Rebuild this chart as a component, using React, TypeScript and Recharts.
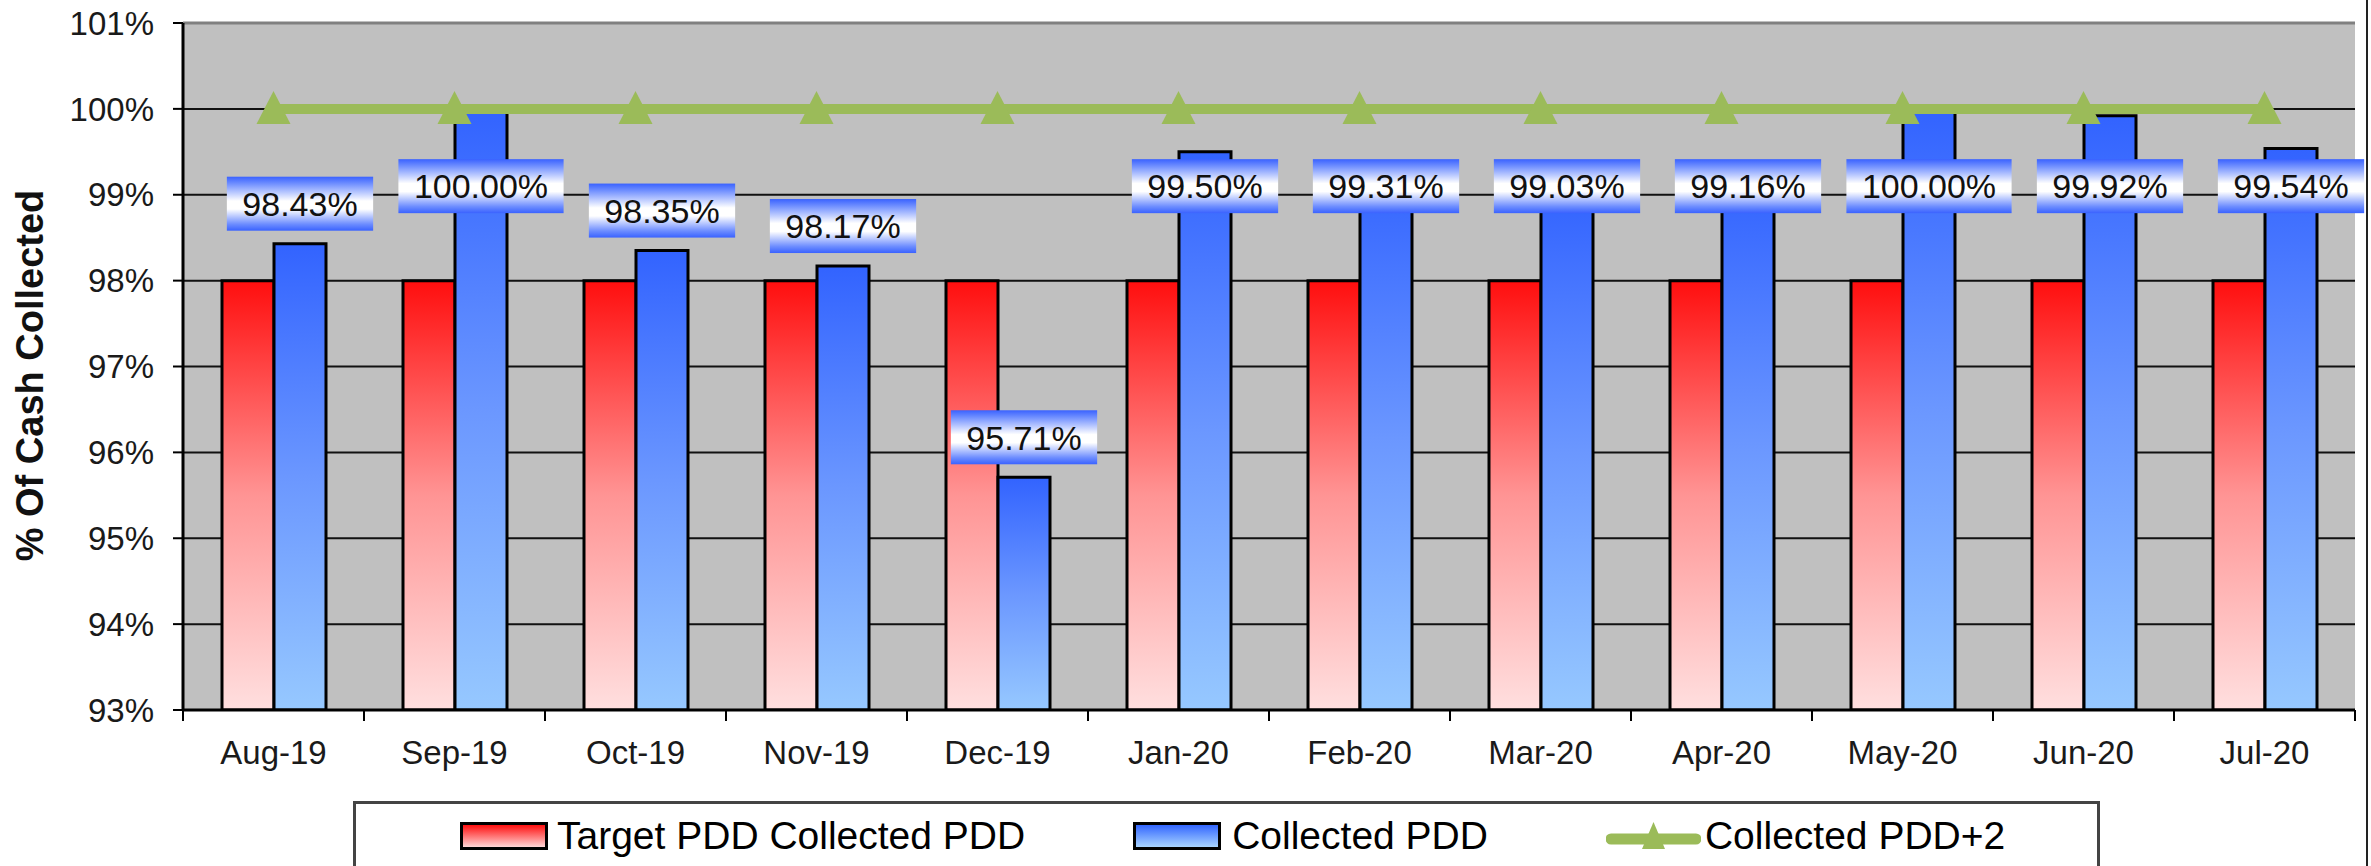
import React from 'react'
import {
  Bar,
  CartesianGrid,
  ComposedChart,
  LabelList,
  Legend,
  Line,
  ReferenceLine,
  XAxis,
  YAxis,
} from 'recharts'

const MONTHS = [
  'Aug-19', 'Sep-19', 'Oct-19', 'Nov-19', 'Dec-19', 'Jan-20',
  'Feb-20', 'Mar-20', 'Apr-20', 'May-20', 'Jun-20', 'Jul-20',
]
const TARGET_PDD = [98, 98, 98, 98, 98, 98, 98, 98, 98, 98, 98, 98]
const COLLECTED_PDD = [98.43, 100.0, 98.35, 98.17, 95.71, 99.5, 99.31, 99.03, 99.16, 100.0, 99.92, 99.54]
const COLLECTED_PDD_PLUS_2 = [100, 100, 100, 100, 100, 100, 100, 100, 100, 100, 100, 100]
const Y_TICKS = [93, 94, 95, 96, 97, 98, 99, 100, 101]

const SERIES_NAMES = ['Target PDD Collected PDD', 'Collected PDD', 'Collected PDD+2']

const FONT = '"Liberation Sans", Arial, Helvetica, sans-serif'
const W = 2371
const H = 866
const Y_MIN = Y_TICKS[0]
const Y_MAX = Y_TICKS[Y_TICKS.length - 1]
// labels of tall bars sit no higher than this value level
const LABEL_CEIL = 99.1
const LINE_GREEN = '#9bbb59'

const chartData = MONTHS.map((month, i) => ({
  month,
  target: TARGET_PDD[i],
  collected: COLLECTED_PDD[i],
  plus2: COLLECTED_PDD_PLUS_2[i],
}))

function textWidth(s: string, size: number) {
  let em = 0
  for (const ch of s) {
    if (ch === '.') em += 0.278
    else if (ch === '%') em += 0.889
    else em += 0.556
  }
  return em * size
}

function ValueBadge(props: any) {
  const { x, y, width, height, value } = props
  const v = Number(value)
  if (!Number.isFinite(v)) return null
  const text = `${v.toFixed(2)}%`
  const boxW = textWidth(text, 34) + 31
  const boxH = 54
  const perUnit = v > Y_MIN ? height / (v - Y_MIN) : 0
  const ceilY = y + height - (LABEL_CEIL - Y_MIN) * perUnit
  const cy = Math.max(y - 40, ceilY)
  const cx = x + width / 2
  return (
    <g>
      <rect x={cx - boxW / 2} y={cy - boxH / 2} width={boxW} height={boxH} fill="url(#badgeGrad)" />
      <text
        x={cx}
        y={cy}
        dy="0.36em"
        textAnchor="middle"
        fontSize={34}
        fontFamily={FONT}
        fill="#111"
      >
        {text}
      </text>
    </g>
  )
}

function TriangleDot(props: any) {
  const { cx, cy, index } = props
  if (cx == null || cy == null) return null
  return (
    <polygon
      key={`tri-${index}`}
      points={`${cx},${cy - 18} ${cx - 17},${cy + 15} ${cx + 17},${cy + 15}`}
      fill={LINE_GREEN}
    />
  )
}

function MonthTick(props: any) {
  const { x, y, payload, index } = props
  const half = payload?.offset || 90.5
  const y0 = y - 31
  return (
    <g>
      <line x1={x - half} x2={x - half} y1={y0} y2={y0 + 11} stroke="#000" strokeWidth={2} />
      {index === MONTHS.length - 1 ? (
        <line x1={x + half} x2={x + half} y1={y0} y2={y0 + 11} stroke="#000" strokeWidth={2} />
      ) : null}
      <text
        x={x}
        y={y}
        dy="0.71em"
        textAnchor="middle"
        fontSize={33}
        fontFamily={FONT}
        fill="#1a1a1a"
      >
        {payload.value}
      </text>
    </g>
  )
}

function AxisTitle(props: any) {
  const vb = props.viewBox ?? { x: 0, y: 23, width: 183, height: 687 }
  const cx = vb.x + 30
  const cy = vb.y + vb.height / 2 + 9
  return (
    <text
      x={cx}
      y={cy}
      transform={`rotate(-90 ${cx} ${cy})`}
      textAnchor="middle"
      dominantBaseline="central"
      fontSize={38}
      fontWeight="bold"
      fontFamily={FONT}
      fill="#111"
    >
      % Of Cash Collected
    </text>
  )
}

function Swatch({ from, to }: { from: string; to: string }) {
  return (
    <span
      style={{
        display: 'inline-block',
        width: 82,
        height: 22,
        border: '3px solid #000',
        background: `linear-gradient(to bottom, ${from}, ${to})`,
      }}
    />
  )
}

function LineMarker() {
  return (
    <svg width={95} height={34} style={{ display: 'block' }}>
      <line x1={5} y1={20} x2={90} y2={20} stroke={LINE_GREEN} strokeWidth={11} strokeLinecap="round" />
      <polygon points="47.5,3 36,30 59,30" fill={LINE_GREEN} />
    </svg>
  )
}

function ChartLegend() {
  const itemText: React.CSSProperties = {
    fontSize: 39,
    fontFamily: FONT,
    color: '#000',
    whiteSpace: 'nowrap',
    lineHeight: '44px',
  }
  return (
    <div
      style={{
        boxSizing: 'border-box',
        width: '100%',
        height: '100%',
        border: '3px solid #444',
        background: '#fff',
        display: 'flex',
        alignItems: 'flex-start',
        paddingLeft: 104,
        paddingTop: 10,
      }}
    >
      <div style={{ display: 'flex', alignItems: 'center', gap: 9, marginRight: 108 }}>
        <Swatch from="#ff1010" to="#ffd6d6" />
        <span style={itemText}>{SERIES_NAMES[0]}</span>
      </div>
      <div style={{ display: 'flex', alignItems: 'center', gap: 11, marginRight: 118 }}>
        <Swatch from="#3366ff" to="#a8d4ff" />
        <span style={itemText}>{SERIES_NAMES[1]}</span>
      </div>
      <div style={{ display: 'flex', alignItems: 'center', gap: 4 }}>
        <LineMarker />
        <span style={itemText}>{SERIES_NAMES[2]}</span>
      </div>
    </div>
  )
}

export default function App() {
  return (
    <div
      style={{
        position: 'absolute',
        left: 0,
        top: 0,
        width: W,
        height: H,
        overflow: 'hidden',
        background: '#fff',
      }}
    >
      <ComposedChart
        width={W}
        height={H}
        data={chartData}
        margin={{ top: 23, right: 16, left: 0, bottom: 96 }}
        barGap={0}
        style={{ fontFamily: FONT }}
      >
        <defs>
          <linearGradient id="redGrad" x1="0" y1="0" x2="0" y2="1">
            <stop offset="0%" stopColor="#ff0e0e" />
            <stop offset="50%" stopColor="#ff9494" />
            <stop offset="100%" stopColor="#ffdfdf" />
          </linearGradient>
          <linearGradient id="blueGrad" x1="0" y1="0" x2="0" y2="1">
            <stop offset="0%" stopColor="#3263ff" />
            <stop offset="50%" stopColor="#6b97ff" />
            <stop offset="100%" stopColor="#96c8ff" />
          </linearGradient>
          <linearGradient id="badgeGrad" x1="0" y1="0" x2="0" y2="1">
            <stop offset="0%" stopColor="#3a62ff" />
            <stop offset="12%" stopColor="#6c8cff" />
            <stop offset="45%" stopColor="#ffffff" />
            <stop offset="60%" stopColor="#ffffff" />
            <stop offset="88%" stopColor="#6c8cff" />
            <stop offset="100%" stopColor="#3a62ff" />
          </linearGradient>
        </defs>
        <CartesianGrid vertical={false} stroke="#111" strokeWidth={2} fill="#c0c0c0" fillOpacity={1} />
        <XAxis
          dataKey="month"
          height={60}
          interval={0}
          tickSize={10}
          tickMargin={21}
          tickLine={false}
          axisLine={{ stroke: '#000', strokeWidth: 3 }}
          tick={<MonthTick />}
        />
        <YAxis
          width={183}
          domain={[Y_MIN, Y_MAX]}
          ticks={Y_TICKS}
          interval={0}
          allowDataOverflow
          tickSize={10}
          tickMargin={19}
          tickFormatter={(v: number) => `${v}%`}
          tick={{ fontSize: 33, fill: '#1a1a1a', fontFamily: FONT }}
          tickLine={{ stroke: '#000', strokeWidth: 2 }}
          axisLine={{ stroke: '#000', strokeWidth: 3 }}
          label={<AxisTitle />}
        />
        <YAxis
          yAxisId="frame"
          orientation="right"
          width={0}
          domain={[Y_MIN, Y_MAX]}
          tick={false}
          tickLine={false}
          axisLine={{ stroke: '#808080', strokeWidth: 3 }}
        />
        <ReferenceLine y={Y_MAX} stroke="#808080" strokeWidth={3} />
        <Bar
          dataKey="target"
          name={SERIES_NAMES[0]}
          barSize={52}
          fill="url(#redGrad)"
          stroke="#000"
          strokeWidth={3}
          isAnimationActive={false}
        />
        <Bar
          dataKey="collected"
          name={SERIES_NAMES[1]}
          barSize={52}
          fill="url(#blueGrad)"
          stroke="#000"
          strokeWidth={3}
          isAnimationActive={false}
        >
          <LabelList dataKey="collected" content={<ValueBadge />} />
        </Bar>
        <Line
          type="linear"
          dataKey="plus2"
          name={SERIES_NAMES[2]}
          stroke={LINE_GREEN}
          strokeWidth={10}
          dot={<TriangleDot />}
          activeDot={false}
          isAnimationActive={false}
        />
        <Legend
          layout="horizontal"
          verticalAlign="middle"
          align="center"
          wrapperStyle={{ left: 353, top: 801, width: 1747, height: 100 }}
          content={() => <ChartLegend />}
        />
      </ComposedChart>
      <div
        style={{
          position: 'absolute',
          left: 2366,
          top: 0,
          width: 2,
          height: H,
          background: '#222',
        }}
      />
    </div>
  )
}
